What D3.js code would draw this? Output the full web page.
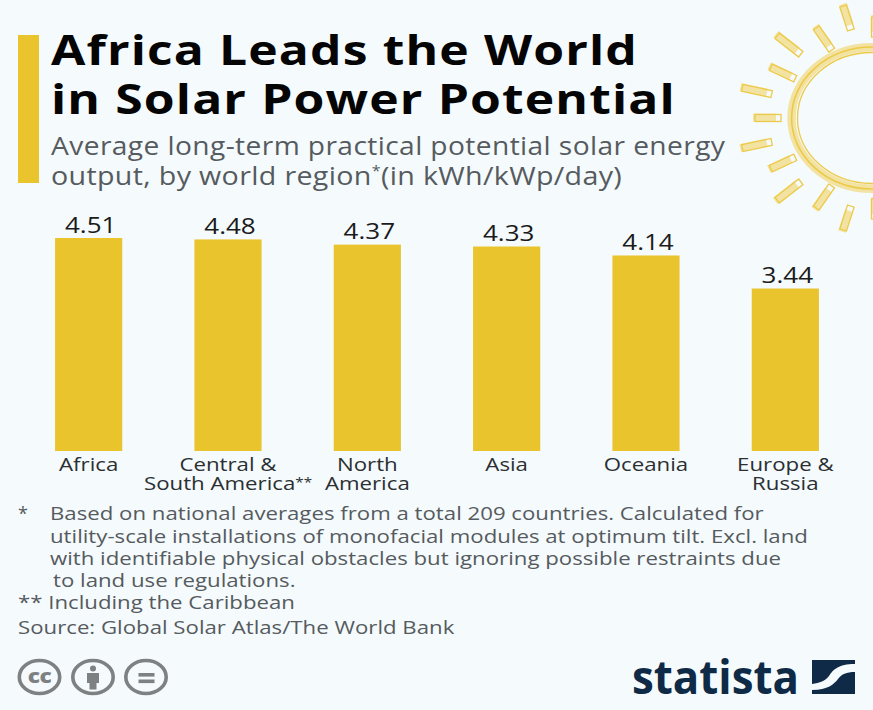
<!DOCTYPE html>
<html><head><meta charset="utf-8">
<script src="https://cdn.jsdelivr.net/npm/d3@7"></script>
<style>html,body{margin:0;padding:0;background:#f5fafd}svg{display:block}text{font-family:"Open Sans",sans-serif}</style>
</head><body><svg id="c" width="873" height="710"></svg>
<script>
const categories=["Africa","Central & South America**","North America","Asia","Oceania","Europe & Russia"];
const categoryLines=[["Africa"],["Central &","South America**"],["North","America"],["Asia"],["Oceania"],["Europe &","Russia"]];
const values=[4.51,4.48,4.37,4.33,4.14,3.44];
const titleLines=["Africa Leads the World","in Solar Power Potential"];
const subtitleLines=["Average long-term practical potential solar energy"];
const notes=[
 ["Based on national averages from a total 209 countries. Calculated for",50,520],
 ["utility-scale installations of monofacial modules at optimum tilt. Excl. land",50,543],
 ["with identifiable physical obstacles but ignoring possible restraints due",50,565],
 ["to land use regulations.",53,587],
 ["** Including the Caribbean",18,609],
 ["Source: Global Solar Atlas/The World Bank",18,634]];
const rays=[[768,118,0,26],[757,91,12,30],[783,73,25,27],[789,45,38,30],[824,39,55,27],[847,18,72,25],
 [757,145,-12,30],[783,163,-25,27],[789,191,-38,30],[824,197,-55,27],[847,218,-72,25],[875,27,90,20],[875,209,90,20]];
const svg=d3.select("#c");
const Y="#e9c42c";
const at=(px,py,sx)=>`translate(${px},${py}) scale(${sx},1)`;
svg.append("rect").attr("width",873).attr("height",710).attr("fill","#f5fafd");
svg.append("rect").attr("x",18).attr("y",35).attr("width",21).attr("height",148).attr("fill",Y);
// sun
const sun=svg.append("g");
sun.append("ellipse").attr("cx",872).attr("cy",118).attr("rx",80.5).attr("ry",70.7).attr("fill","none").attr("stroke","#f3e3a3").attr("stroke-width",8.5);
sun.append("ellipse").attr("cx",872).attr("cy",118).attr("rx",80.4).attr("ry",71).attr("fill","none").attr("stroke","#ecca49").attr("stroke-width",1.6);
sun.append("ellipse").attr("cx",872).attr("cy",118).attr("rx",74.5).attr("ry",65.5).attr("fill","none").attr("stroke","#ecca49").attr("stroke-width",1.3);
rays.forEach(([x,y,a,l])=>{
 const g=sun.append("g").attr("transform",`translate(${x},${y}) rotate(${a})`);
 g.append("rect").attr("x",-l/2-2).attr("y",-4.5).attr("width",l-3).attr("height",8).attr("fill","#f3e3a3");
 g.append("rect").attr("x",-l/2).attr("y",-3.5).attr("width",l).attr("height",7).attr("fill","none").attr("stroke","#ecca49").attr("stroke-width",1.3);
});
// title
svg.selectAll(".t").data(titleLines).join("text").attr("transform",(d,i)=>at(51,65+i*49,1.2))
 .attr("font-size",41.5).attr("font-weight",700).attr("letter-spacing",.95).attr("fill","#050505").text(d=>d);
svg.append("text").attr("transform",at(51,155,1.127)).attr("fill","#555b5e").attr("font-size",25).attr("letter-spacing",.35).text(subtitleLines[0]);
const s2=svg.append("text").attr("transform",at(51,185,1.145)).attr("fill","#555b5e").attr("font-size",25).attr("letter-spacing",.3);
s2.append("tspan").text("output, by world region");
s2.append("tspan").attr("font-size",14).attr("dy",-9).text("*");
s2.append("tspan").attr("dy",9).text("(in kWh/kWp/day)");
// bars
const x=d3.scaleBand().domain(categories).range([19,855]).paddingInner(.518).paddingOuter(.259);
const y=d3.scaleLinear().domain([0,4.51]).range([451,238]);
svg.selectAll(".bar").data(values).join("rect").attr("class","bar")
 .attr("x",(d,i)=>x(categories[i])).attr("y",d=>y(d)).attr("width",x.bandwidth()).attr("height",d=>y(0)-y(d)).attr("fill",Y);
svg.selectAll(".val").data(values).join("text").attr("class","val")
 .attr("transform",(d,i)=>at(x(categories[i])+x.bandwidth()/2+2,y(d)-5.5,1.24)).attr("text-anchor","middle")
 .attr("font-size",21).attr("fill","#1b1b1b").text(d=>d.toFixed(2));
categories.forEach((c,i)=>{
 categoryLines[i].forEach((l,j)=>{
  const t=svg.append("text").attr("transform",at(x(c)+x.bandwidth()/2,471+j*19,1.27))
   .attr("text-anchor","middle").attr("font-size",17.5).attr("fill","#2b2f31");
  const stars=l.endsWith("**");
  t.append("tspan").text(stars?l.slice(0,-2):l);
  if(stars) t.append("tspan").attr("font-size",12).attr("dy",-3).text("**");
 });
});
// notes
svg.append("text").attr("x",18).attr("y",520).attr("font-size",18).attr("fill","#555b5e").text("*");
notes.forEach(([t,nx,ny])=>svg.append("text").attr("transform",at(nx,ny,1.263)).attr("font-size",17.6).attr("fill","#555b5e").text(t));
// cc icons
const G="#7d8182";
[39.5,93,146].forEach(cx=>{
 svg.append("ellipse").attr("cx",cx).attr("cy",677).attr("rx",20.2).attr("ry",16.5).attr("fill","none").attr("stroke",G).attr("stroke-width",3.6);
});
svg.append("text").attr("transform",at(39.5,683,1.2)).attr("text-anchor","middle").attr("font-size",19).attr("font-weight",800).attr("fill",G).attr("letter-spacing",-.5).text("cc");
svg.append("circle").attr("cx",93).attr("cy",668.5).attr("r",3).attr("fill",G);
svg.append("path").attr("fill",G).attr("d","M87 673h12v10h-2.5v6.500h-7v-6.500h-2.500z");
svg.append("rect").attr("x",138.500).attr("y",673).attr("width",16).attr("height",3.600).attr("fill",G);
svg.append("rect").attr("x",138.500).attr("y",679.500).attr("width",16).attr("height",3.600).attr("fill",G);
// logo
const N="#0f2a47";
svg.append("text").attr("x",632).attr("y",693.500).attr("font-size",47).attr("font-weight",700).attr("fill",N).attr("textLength",167).attr("lengthAdjust","spacingAndGlyphs").text("statista");
svg.append("path").attr("fill",N).attr("d","M812 660H855v4C838 664 833 670 829 676C825 681 820 683 812 684Z");
svg.append("path").attr("fill",N).attr("d","M855 672V694H812V690C828 690 834 684 838 679C842 674 846 672 855 672Z");
</script></body></html>
